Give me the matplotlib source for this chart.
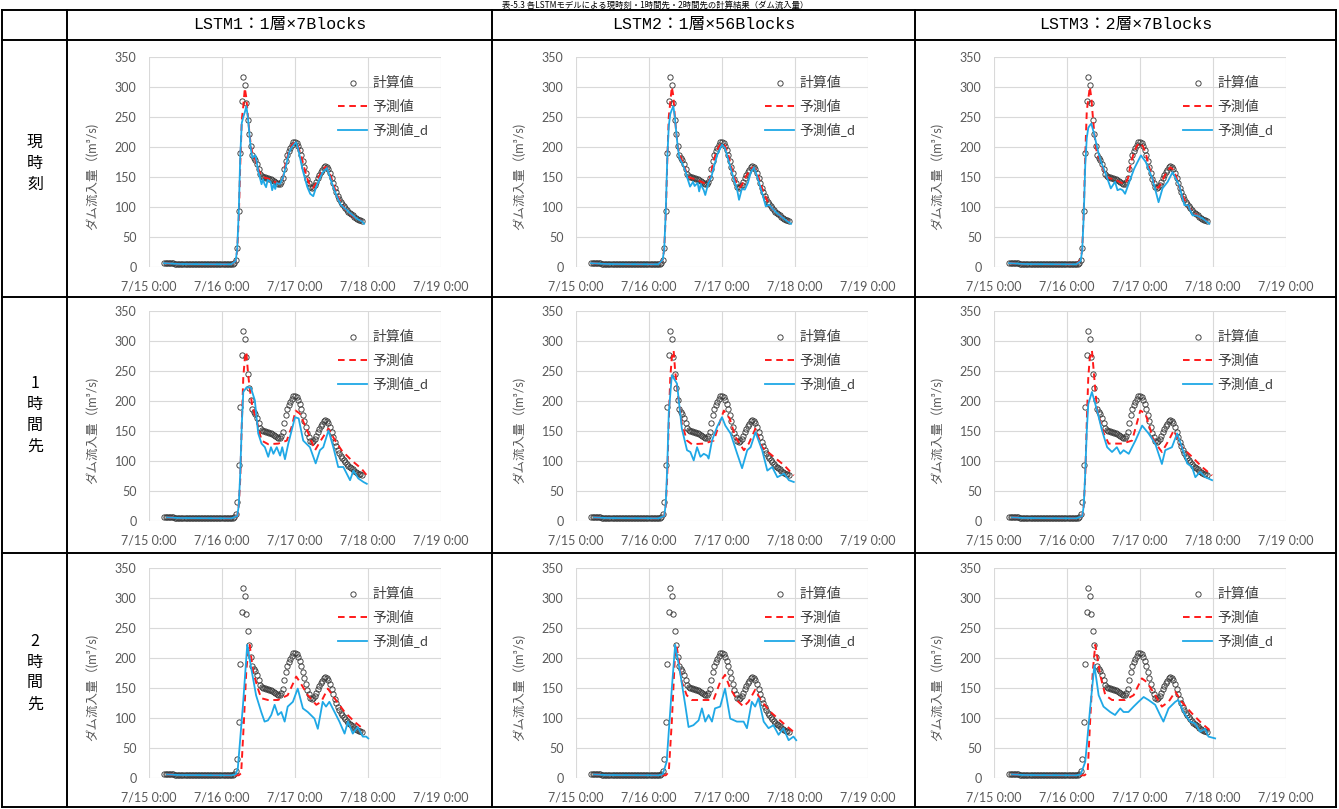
import matplotlib
matplotlib.use('Agg')
import matplotlib.pyplot as plt
from matplotlib.lines import Line2D
import numpy as np

plt.rcParams['font.family'] = ['Lato', 'Noto Sans CJK JP']

W, H = 1339, 809

# observed inflow (計算値), half-hourly, hours from 7/15 0:00
OBS_T0 = 5.0
OBS_DT = 0.5
obs = [7, 7, 6.5, 6.5, 6, 6, 6, 5.5, 5.5, 5.5,
       5.5, 5, 5, 5, 5, 5, 5, 5, 5, 5,
       4.5, 4.5, 4.5, 4.5, 4.5, 4.5, 4.5, 4.5, 4.5, 4.5,
       4.5, 4.5, 4.5, 4.5, 4.5, 4.5, 4.5, 4.5, 4.5, 4.5,
       4.5, 4.5, 4.5, 4.5, 4.5, 5, 6,
       12, 32, 94, 190, 276, 316, 303, 273, 245, 221,
       201, 187, 182, 178, 172, 163, 155, 151, 150, 150,
       149, 148, 147, 146, 145, 144, 142, 140, 138, 139,
       142, 149, 163, 177, 186, 193, 199, 204, 208, 209,
       207, 202, 195, 186, 176, 166, 156, 147, 140, 134,
       132, 133, 137, 142, 148, 153, 158, 162, 166, 168,
       167, 163, 156, 148, 140, 132, 125, 119, 113, 109,
       105, 101, 98, 95, 92, 90, 88, 86, 84, 82,
       80, 79, 78, 77]

# 予測値 (red) and 予測値_d (blue); row 0 = 現時刻, 1 = 1時間先, 2 = 2時間先
red_t_00 = [5, 10, 27, 28.5, 29, 29.5, 30, 30.5, 31, 31.5, 32, 32.5, 33, 33.5, 34, 35, 36, 37, 38, 40, 42, 43, 44, 45, 46, 47, 48, 49, 50,
            51, 52, 53, 54, 55, 56, 57, 58, 59, 60, 61, 62, 63, 64, 65, 66, 67, 68, 69, 70]
red_v_00 = [6.5, 5, 4.5, 10, 28, 80, 170, 245, 268, 298, 282, 252, 224, 202, 189, 178, 163, 151, 149, 146, 140, 138, 147, 175, 192, 203, 208, 201, 186,
            166, 148, 135, 132, 140, 152, 161, 167, 162, 148, 132, 118, 108, 100, 94, 89, 85, 81, 79, 76]
blue_t_00 = [5, 10, 27, 28.5, 29, 29.5, 30, 30.5, 31, 31.5, 32, 32.5, 33, 33.5, 34, 35, 35.5, 36, 37, 37.5, 38, 38.5, 39, 40, 40.5,
             41, 41.5, 42, 43, 44, 45, 46, 47, 48.3, 49, 50.5, 52, 53, 54, 55, 56, 57, 58.5, 59, 60, 61.5, 63, 65, 67, 68.5, 70, 70.7]
blue_v_00 = [6.5, 5, 4.5, 10, 30, 90, 185, 240, 250, 258, 268, 250, 222, 196, 182, 186, 172, 158, 138, 146, 138, 133, 145, 142, 128,
             138, 130, 140, 138, 148, 168, 190, 200, 208, 198, 162, 134, 122, 118, 134, 146, 157, 165, 158, 142, 121, 104, 95, 86, 80, 76, 72]

red_t_01 = red_t_00
red_v_01 = [6.5, 5, 4.5, 12, 30, 85, 175, 250, 275, 300, 285, 250, 222, 200, 188, 176, 162, 150, 148, 145, 140, 138, 146, 172, 190, 201, 207, 202, 188,
            168, 150, 137, 133, 141, 152, 160, 166, 163, 150, 134, 120, 109, 101, 95, 90, 86, 82, 79, 76]
blue_t_01 = [5, 10, 27, 28.5, 29, 29.5, 30, 30.5, 31, 31.5, 32, 32.5, 33, 33.5, 34, 35, 36, 36.5, 37.5, 38.5, 39, 40, 40.5, 41, 42,
             42.5, 43.5, 44.5, 45.5, 46.5, 48, 49, 50, 51, 52, 53, 53.6, 54.5, 55.5, 56.5, 57.5, 58.5, 59.5, 60.5, 61.5,
             62.4, 63.5, 64.5, 66, 67.5, 69, 70.7]
blue_v_01 = [6.5, 5, 4.5, 12, 30, 90, 180, 235, 255, 262, 268, 250, 222, 198, 182, 172, 160, 150, 134, 142, 135, 140, 126, 138, 128,
             120, 140, 150, 170, 188, 204, 198, 180, 162, 145, 128, 112, 130, 129, 140, 158, 166, 152, 135, 118,
             101, 104, 98, 90, 84, 78, 72]

red_t_02 = red_t_00
red_v_02 = [6.5, 5, 4.5, 12, 30, 90, 185, 260, 280, 300, 282, 250, 222, 200, 187, 177, 162, 150, 148, 145, 140, 138, 147, 173, 191, 202, 207, 201, 187,
            167, 149, 136, 132, 140, 151, 160, 166, 162, 149, 133, 119, 108, 100, 94, 89, 85, 81, 79, 76]
blue_t_02 = [5, 10, 27, 28.5, 29, 29.5, 30, 30.5, 31, 31.5, 32, 33, 34, 35, 35.7, 37.3, 38.4, 39.8, 40.6, 41.5, 42.3,
             43.1, 44.5, 46.1, 48.3, 49.9, 52.1, 54.1, 55.4, 57.1, 58.7, 60.9, 62.6, 63.8, 65.3, 66.5, 68.6, 70.8]
blue_v_02 = [6.5, 5, 4.5, 10, 28, 85, 170, 215, 232, 236, 239, 220, 197, 178, 169, 147, 131, 142, 128, 130, 128,
             122, 142, 164, 186, 175, 147, 108, 131, 142, 158, 136, 103, 103, 86, 86, 81, 72]

red_t_10 = [6, 10, 27, 29, 29.5, 30, 30.5, 31, 31.5, 32, 32.5, 33, 34, 35.4, 37, 39.2, 42.5, 45.3, 46.9, 48.2, 49.6, 52.4, 54.6,
            56.2, 59, 61.2, 63.3, 66.6, 69.9, 71.6]
red_v_10 = [6, 5, 4.5, 8, 25, 70, 160, 240, 270, 282, 250, 225, 190, 168, 134, 128, 129, 134, 157, 184, 179, 146, 118,
            132, 154, 134, 118, 101, 87, 76]
blue_t_10 = [6, 10, 27, 29, 29.5, 30, 30.5, 31, 32.1, 33.5, 34.8, 35.9, 37, 38.1, 39.2, 40.1, 40.9, 42, 43.1, 43.8, 44.7, 45.8, 48,
             49.2, 50.7, 52.9, 54.8, 56.2, 57.3, 59, 60.6, 62.2, 63.9, 66.1, 67.2, 68.8, 70.5, 71.6]
blue_v_10 = [6, 5, 4.5, 8, 25, 80, 160, 215, 223, 222, 201, 146, 129, 123, 107, 123, 112, 123, 109, 123, 103, 129, 173,
             171, 134, 123, 96, 118, 123, 151, 123, 90, 90, 68, 84, 71, 65, 62]

red_t_11 = [6, 10, 27, 29, 29.5, 30, 30.5, 31, 31.5, 32.1, 32.6, 33.2, 34.8, 36.5, 38.1, 42, 45.3, 47.5, 48.6, 50.5, 52.4, 55.2, 56.8,
            59, 61.2, 65, 68.4, 71.6]
red_v_11 = [6, 5, 4.5, 8, 25, 75, 165, 240, 272, 284, 250, 223, 162, 134, 128, 129, 134, 168, 184, 171, 140, 118, 129,
            154, 123, 107, 93, 76]
blue_t_11 = [6, 10, 27, 29, 29.5, 30, 30.5, 31.5, 33.2, 34.8, 36.5, 37.6, 38.7, 39.8, 40.9, 42, 43.1, 43.6, 44.7, 46.4, 48, 49.1, 50.8,
             53, 54.6, 56.3, 57.4, 59, 61.2, 62.9, 64.5, 66.2, 68.4, 70, 71.6]
blue_v_11 = [6, 5, 4.5, 8, 28, 90, 180, 243, 229, 154, 118, 115, 101, 123, 107, 112, 109, 104, 134, 157, 173, 159, 146,
             112, 88, 118, 123, 148, 118, 84, 90, 73, 79, 68, 65]

red_t_12 = [6, 10, 27, 29, 29.5, 30, 30.5, 31, 31.5, 32.2, 32.7, 33.2, 33.9, 36.1, 37.7, 42.1, 45.4, 48.1, 49.8, 52.5, 55.2, 57.4,
            59.1, 61.8, 65.1, 68.4, 71.7]
red_v_12 = [6, 5, 4.5, 8, 25, 75, 165, 240, 272, 284, 255, 225, 184, 146, 129, 129, 134, 184, 179, 134, 115, 134,
            151, 123, 107, 90, 76]
blue_t_12 = [6, 10, 27, 29, 29.5, 30, 30.5, 31, 32.2, 33.9, 35.5, 37.2, 38.8, 40.4, 41.5, 42.6, 44.3, 46.5, 48.7, 50.8, 53, 55.2, 56.3,
             58.5, 60.2, 61.8, 63.5, 65.1, 66.2, 67.8, 69.5, 71.7]
blue_v_12 = [6, 5, 4.5, 8, 25, 80, 150, 195, 215, 184, 151, 123, 115, 123, 112, 118, 112, 134, 159, 146, 129, 95, 118,
             123, 146, 123, 96, 90, 73, 82, 73, 68]

red_t_20 = [6, 10, 27, 29.5, 30.3, 31.2, 32, 32.5, 33.1, 34.2, 35.8, 36.9, 39.1, 42.4, 45.6, 48.4, 49.5, 52.2, 55, 56.6, 58.8, 61,
            64.3, 67.5, 70.8]
red_v_20 = [6, 5, 4.5, 4.5, 8, 94, 180, 205, 222, 177, 149, 133, 130, 130, 138, 169, 161, 138, 122, 127, 149, 133,
            110, 94, 80]
blue_t_20 = [6, 10, 27, 28.5, 29.2, 30.9, 32.3, 33.6, 35.2, 36.9, 38, 39.1, 40.2, 41.3, 42.4, 43.5, 44.6, 45.6, 47.3, 48.9, 50.6,
             52.2, 54.4, 55.5, 57.1, 58.2, 59.3, 61, 62.6, 64.3, 65.4, 67, 68.6, 70.3, 71.4, 72.1]
blue_v_20 = [6, 5, 4.5, 6, 16, 122, 222, 183, 138, 110, 94, 96, 105, 122, 105, 110, 94, 119, 127, 149, 116,
             110, 99, 82, 127, 119, 127, 110, 94, 74, 94, 74, 85, 69, 69, 66]

red_t_21 = [6, 10, 27, 29.5, 30.5, 31.5, 32.6, 33.1, 34.8, 36.4, 38.1, 41.9, 45.2, 47.4, 49, 50.7, 53.4, 55.1, 56.7, 58.9, 61.1,
            64.4, 68.2, 71.5]
red_v_21 = [6, 5, 4.5, 4.5, 10, 94, 211, 220, 160, 138, 130, 130, 130, 160, 172, 149, 127, 119, 127, 147, 127,
            108, 91, 77]
blue_t_21 = [6, 10, 27, 28.5, 29.8, 31.5, 32.6, 34.2, 35.9, 37, 38.6, 40.3, 41.4, 42.5, 43.6, 44.7, 45.7, 47.4, 49, 50.7, 52.9,
             55.1, 56.2, 57.8, 58.9, 60, 61.7, 63.3, 64.9, 66.6, 68.2, 69.9, 71.5, 72.4]
blue_v_21 = [6, 5, 4.5, 6, 27, 149, 222, 177, 122, 85, 88, 96, 116, 94, 105, 94, 116, 119, 149, 99, 94,
             94, 83, 127, 119, 133, 94, 83, 88, 72, 83, 63, 69, 63]

red_t_22 = [6, 10, 27, 29.8, 30.8, 31.6, 32.5, 33.3, 34.9, 36.6, 38.8, 43.1, 45.9, 48.6, 50.2, 53, 55.2, 57.4, 59.6, 61.7,
            65, 68.3, 71.6]
red_v_22 = [6, 5, 4.5, 4.5, 10, 94, 180, 222, 172, 138, 130, 130, 138, 166, 160, 138, 119, 127, 144, 127,
            108, 91, 77]
blue_t_22 = [6, 10, 27, 28.5, 30, 31.6, 33, 34.4, 36, 38.2, 39.8, 41.5, 42.6, 44.2, 45.9, 47.5, 49.2, 50.8, 53, 54.6, 55.7,
             57.4, 59.6, 60.6, 62.3, 64.5, 66.1, 67.8, 69.4, 70.5, 72.7]
blue_v_22 = [6, 5, 4.5, 6, 27, 116, 188, 138, 119, 110, 105, 116, 110, 110, 119, 127, 135, 130, 122, 105, 94,
             116, 127, 130, 110, 94, 91, 77, 82, 69, 66]

col_titles = ['LSTM1：1層×7Blocks', 'LSTM2：1層×56Blocks', 'LSTM3：2層×7Blocks']
row_titles = ['現時刻', '1時間先', '2時間先']
x_ticklabels = ['7/15 0:00', '7/16 0:00', '7/17 0:00', '7/18 0:00', '7/19 0:00']
legend_labels = ['計算値', '予測値', '予測値_d']
ylabel = 'ダム流入量（(m³/s)'
caption = '表-5.3 各LSTMモデルによる現時刻・1時間先・2時間先の計算結果（ダム流入量）'

red = [[(red_t_00, red_v_00), (red_t_01, red_v_01), (red_t_02, red_v_02)],
       [(red_t_10, red_v_10), (red_t_11, red_v_11), (red_t_12, red_v_12)],
       [(red_t_20, red_v_20), (red_t_21, red_v_21), (red_t_22, red_v_22)]]
blue = [[(blue_t_00, blue_v_00), (blue_t_01, blue_v_01), (blue_t_02, blue_v_02)],
        [(blue_t_10, blue_v_10), (blue_t_11, blue_v_11), (blue_t_12, blue_v_12)],
        [(blue_t_20, blue_v_20), (blue_t_21, blue_v_21), (blue_t_22, blue_v_22)]]

obs_t = OBS_T0 + OBS_DT * np.arange(len(obs))

RED = '#ff1a1a'
BLUE = '#1fa8e6'
GRID = '#d9d9d9'
TXT = '#595959'

fig = plt.figure(figsize=(W / 100, H / 100), dpi=100)
fig.patch.set_facecolor('white')

# layout in pixels
ax_left = [149, 576, 994]
ax_top = [57, 311, 568]
ax_w, ax_h = 292, 210

for r in range(3):
    for c in range(3):
        ax = fig.add_axes([ax_left[c] / W, 1 - (ax_top[r] + ax_h) / H, ax_w / W, ax_h / H])
        ax.plot(obs_t, obs, 'o', ms=3.8, mfc='none', mec='#3a3a3a', mew=0.65, label=legend_labels[0], zorder=3)
        ax.plot(red[r][c][0], red[r][c][1], color=RED, lw=1.4, dashes=(3.4, 2.4), label=legend_labels[1], zorder=4)
        ax.plot(blue[r][c][0], blue[r][c][1], color=BLUE, lw=1.3, label=legend_labels[2], zorder=5)
        ax.set_xlim(0, 96)
        ax.set_ylim(0, 350)
        ax.set_xticks([0, 24, 48, 72, 96])
        ax.set_xticklabels(x_ticklabels)
        ax.set_yticks(np.arange(0, 351, 50))
        ax.tick_params(length=0, labelsize=9, labelcolor=TXT)
        ax.tick_params(axis='x', pad=10)
        ax.tick_params(axis='y', pad=9)
        ax.grid(True, color=GRID, lw=0.8)
        for s in ax.spines.values():
            s.set_visible(False)
        ax.set_ylabel(ylabel, fontsize=9, color=TXT, rotation=90, va='center', ha='center')
        ax.yaxis.set_label_coords(-57 / ax_w, 0.43)
        leg = ax.legend(loc='upper left', bbox_to_anchor=(0.647, 0.908), frameon=False, fontsize=10,
                        handlelength=2.1, handletextpad=0.36, labelspacing=0.73, borderpad=0, borderaxespad=0)
        for t in leg.get_texts():
            t.set_color('#404040')


def fx(x):
    return x / W


def fy(y):
    return 1 - y / H


# table rules
for y in [10, 40, 297, 553, 807]:
    fig.add_artist(Line2D([fx(2), fx(1336)], [fy(y), fy(y)], color='black', lw=1.4))
for x in [2, 67, 492, 915, 1336]:
    fig.add_artist(Line2D([fx(x), fx(x)], [fy(10), fy(807)], color='black', lw=1.4))

col_cx = [279.5, 703.5, 1125.5]
for c in range(3):
    fig.text(fx(col_cx[c]), fy(25), col_titles[c], ha='center', va='center', fontsize=12,
             family=['Liberation Mono', 'Noto Sans CJK JP'], color='black')

row_cy = [163.5, 415, 672.5]
for r in range(3):
    fig.text(fx(35), fy(row_cy[r]), '\n'.join(row_titles[r]), ha='center', va='center', fontsize=11.5,
             family=['Noto Sans CJK JP'], linespacing=1.3, color='black')

# caption above the table (mostly outside the page crop)
fig.text(fx(655), fy(0.5), caption, ha='center', va='top', fontsize=6,
         family=['Noto Sans CJK JP'], color='black')

fig.savefig('out.png', dpi=100)
